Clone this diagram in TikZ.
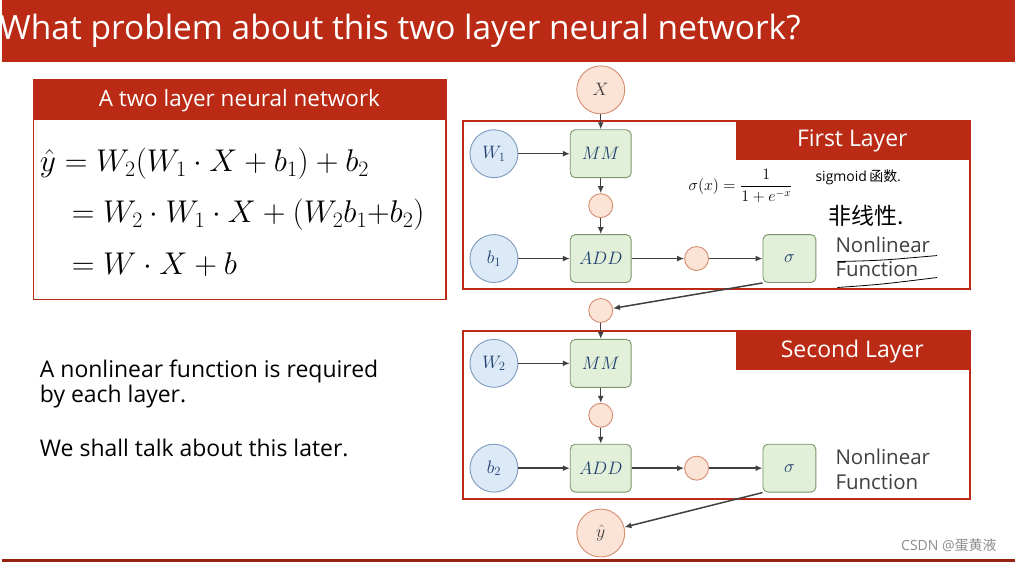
\RequirePackage{fix-cm}
\documentclass[tikz,border=0pt]{standalone}
\usepackage{amsmath,amssymb}
\usepackage{xcolor}
\usepackage{fontspec}
\setmainfont{Open Sans}
\newfontfamily\cjkfont{Noto Sans CJK SC}
\usepackage{tikz}
\usetikzlibrary{arrows.meta,positioning}

\definecolor{slidered}{RGB}{186,42,20}
\definecolor{inkblue}{RGB}{31,62,110}
\definecolor{peachfill}{RGB}{251,228,214}
\definecolor{peachdraw}{RGB}{214,140,110}
\definecolor{skyfill}{RGB}{220,233,246}
\definecolor{skydraw}{RGB}{125,155,190}
\definecolor{mintfill}{RGB}{226,240,217}
\definecolor{mintdraw}{RGB}{120,150,105}
\definecolor{wire}{RGB}{64,64,64}

\begin{document}
\begin{tikzpicture}[
			x=1pt, y=-1pt,
			every node/.style={align=center},
			sz/.style={font=\fontsize{#1}{#1}\selectfont},
			flow/.style={draw=wire, line width=1.5pt, -{Latex[length=7pt,width=6pt]}},
			datum/.style={circle, draw=peachdraw, fill=peachfill, line width=0.9pt,
				minimum size=48pt, inner sep=0pt, text=wire, sz=18},
			hidden/.style={circle, draw=peachdraw, fill=peachfill, line width=0.9pt,
				minimum size=24pt, inner sep=0pt},
			param/.style={circle, draw=skydraw, fill=skyfill, line width=0.9pt,
				minimum size=48pt, inner sep=0pt, text=inkblue, sz=18},
			op/.style={rectangle, rounded corners=5pt, draw=mintdraw, fill=mintfill,
				line width=0.9pt, minimum width=61pt, minimum height=48pt,
				inner sep=0pt, text=inkblue, sz=18},
			act/.style={op, minimum width=53pt},
			layer/.style={draw=slidered, line width=2pt},
			hand/.style={text=black, inner sep=0pt},
			]
			
			% background and title bar
			\fill[white] (0,0) rectangle (1015,563);
			\fill[slidered] (0,0) rectangle (1015,62);
			\node[anchor=base west, text=white, inner sep=0pt, sz=33.5] (title) at (-2,40)
				{What problem about this two layer neural network?};
			\fill[slidered!80!black] (0,560) rectangle (1015,563);
			
			% formula box
			\fill[slidered] (32,80) rectangle (445,120);
			\draw[slidered, line width=1.5pt] (32,80) rectangle (445,300);
			\node[text=white, sz=22.5] (fhead) at (238,101) {A two layer neural network};
			\node[anchor=base west, inner sep=0pt, sz=31.5] (eq1) at (38,172)
				{$\hat{y} = W_2(W_1\cdot X + b_1) + b_2$};
			\node[anchor=base west, inner sep=0pt, sz=31.5] (eq2) at (70,223)
				{$= W_2\cdot W_1\cdot X + (W_2 b_1{+}b_2)$};
			\node[anchor=base west, inner sep=0pt, sz=31.5] (eq3) at (70,275)
				{$= W\cdot X + b$};
			
			% remark
			\node[anchor=base west, align=left, inner sep=0pt, sz=23] (remark) at (38,403)
				{A nonlinear function is required\\[2pt]by each layer.};
			\node[anchor=base west, inner sep=0pt, sz=23] (later) at (38,457)
				{We shall talk about this later.};
			
			% first layer
			\draw[layer] (462,121) rectangle (970,290);
			\fill[slidered] (735,121) rectangle (970,160);
			\node[text=white, sz=23] (l1name) at (852,141) {First Layer};
			
			\node[datum] (X) at (600,90) {$X$};
			\node[param] (W1) at (493,154) {$W_1$};
			\node[op] (MM1) at (600,154) {$MM$};
			\node[hidden] (p1) at (600,206) {};
			\node[param] (b1) at (493,259) {$b_1$};
			\node[op] (ADD1) at (600,259) {$ADD$};
			\node[hidden] (z1) at (696,259) {};
			\node[act] (sig1) at (789,259) {$\sigma$};
			\node[anchor=base west, align=left, inner sep=0pt, sz=20.5, text=wire] (nl1) at (835,277)
				{Nonlinear\\[4pt]Function};
			
			\draw[flow] (X) -- (MM1);
			\draw[flow] (W1) -- (MM1);
			\draw[flow] (MM1) -- (p1);
			\draw[flow] (p1) -- (ADD1);
			\draw[flow] (b1) -- (ADD1);
			\draw[flow] (ADD1) -- (z1);
			\draw[flow] (z1) -- (sig1);
			
			% notes written by hand
			\node[hand, sz=16] (sigdef) at (740,186) {$\sigma(x)=\dfrac{1}{1+e^{-x}}$};
			\node[hand, anchor=west, sz=14] (signame) at (815,178) {sigmoid\,{\cjkfont 函数}.};
			\node[hand, anchor=west, sz=23] (nonlin) at (828,216) {\cjkfont 非线性.};
			\draw[black, line width=0.8pt] (837,262) .. controls (880,261) .. (937,256);
			\draw[black, line width=0.8pt] (837,288) .. controls (880,285) .. (937,278);
			
			% between layers
			\node[hidden] (h1) at (600,311) {};
			\draw[flow] (sig1.south west) -- (h1);
			
			% second layer
			\draw[layer] (462,332) rectangle (970,500);
			\fill[slidered] (735,332) rectangle (970,371);
			\node[text=white, sz=23] (l2name) at (852,352) {Second Layer};
			
			\node[param] (W2) at (493,364) {$W_2$};
			\node[op] (MM2) at (600,364) {$MM$};
			\node[hidden] (p2) at (600,416) {};
			\node[param] (b2) at (493,469) {$b_2$};
			\node[op] (ADD2) at (600,469) {$ADD$};
			\node[hidden] (z2) at (696,469) {};
			\node[act] (sig2) at (789,469) {$\sigma$};
			\node[anchor=base west, align=left, inner sep=0pt, sz=20.5, text=wire] (nl2) at (835,490)
				{Nonlinear\\[4pt]Function};
			
			\draw[flow] (h1) -- (MM2);
			\draw[flow] (W2) -- (MM2);
			\draw[flow] (MM2) -- (p2);
			\draw[flow] (p2) -- (ADD2);
			\draw[flow] (b2) -- (ADD2);
			\draw[flow] (ADD2) -- (z2);
			\draw[flow] (z2) -- (sig2);
			
			\node[datum] (yhat) at (600,534) {$\hat{y}$};
			\draw[flow] (sig2.south west) -- (yhat);
			
			% watermark
			\node[anchor=east, text=black!45, sz=14] (mark) at (1000,546)
				{CSDN @{\cjkfont 蛋黄液}};
			
		\end{tikzpicture}
\end{document}
